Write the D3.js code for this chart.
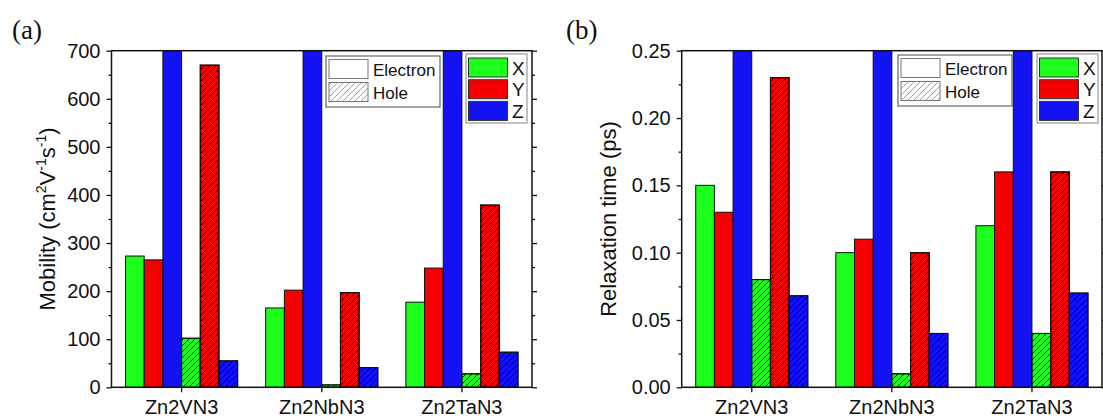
<!DOCTYPE html>
<html>
<head>
<meta charset="utf-8">
<script src="https://cdn.jsdelivr.net/npm/d3@7"></script>
<style>
  html, body { margin: 0; padding: 0; background: #fff; }
  svg { display: block; }
  text { font-family: "Liberation Sans", Arial, sans-serif; fill: #111; }
</style>
</head>
<body>
<svg id="chart" width="1103" height="419"></svg>
<script>
// ---------------- data ----------------
const categories = ["Zn2VN3", "Zn2NbN3", "Zn2TaN3"];
const seriesKeys = ["Xe", "Ye", "Ze", "Xh", "Yh", "Zh"];
const seriesDir = ["X", "Y", "Z", "X", "Y", "Z"];
const seriesHole = [false, false, false, true, true, true];

// (a) Mobility (cm2 V-1 s-1); Z electron values run off the top of the axis
const mobXe = [273, 165, 177];
const mobYe = [265, 202, 248];
const mobZe = [900, 900, 900];
const mobXh = [102, 5, 28];
const mobYh = [670, 197, 379];
const mobZh = [55, 41, 73];
const mobTicks = [0, 100, 200, 300, 400, 500, 600, 700];

// (b) Relaxation time (ps); Z electron values run off the top of the axis
const relXe = [0.15, 0.10, 0.12];
const relYe = [0.13, 0.11, 0.16];
const relZe = [0.35, 0.35, 0.35];
const relXh = [0.08, 0.01, 0.04];
const relYh = [0.23, 0.10, 0.16];
const relZh = [0.068, 0.04, 0.07];
const relTicks = [0, 0.05, 0.10, 0.15, 0.20, 0.25];

const dirColors = { X: "#1cff1c", Y: "#f40000", Z: "#1212f2" };
const legendDirs = ["X", "Y", "Z"];
const legendTypes = ["Electron", "Hole"];

// ---------------- drawing ----------------
const svg = d3.select("#chart");
const defs = svg.append("defs");

function hatch(id, color, w) {
  const p = defs.append("pattern")
    .attr("id", id).attr("patternUnits", "userSpaceOnUse")
    .attr("width", 6).attr("height", 6);
  p.append("path")
    .attr("d", "M-1,1 l2,-2 M0,6 l6,-6 M5,7 l2,-2")
    .attr("stroke", color).attr("stroke-width", w);
}
hatch("hatch", "#000", 0.8);
hatch("hatchGray", "#888", 0.8);

function panel(cfg) {
  const { left, right, top, bottom } = cfg;
  const g = svg.append("g");

  const x0 = d3.scaleBand().domain(categories).range([left, right]).padding(0);
  const bw = x0.bandwidth();
  const x1 = d3.scaleBand().domain(seriesKeys).range([0.1 * bw, 0.9 * bw]).padding(0);
  const y = d3.scaleLinear().domain(cfg.domain).range([bottom, top]);

  const clipId = "clip-" + cfg.id;
  defs.append("clipPath").attr("id", clipId)
    .append("rect").attr("x", left).attr("y", top)
    .attr("width", right - left).attr("height", bottom - top);

  const rows = [];
  categories.forEach((c, ci) => {
    seriesKeys.forEach((k, si) => {
      rows.push({ cat: c, key: k, dir: seriesDir[si], hole: seriesHole[si], v: cfg.values[si][ci] });
    });
  });

  const bars = g.append("g").attr("clip-path", `url(#${clipId})`);
  bars.selectAll("rect.fill").data(rows).join("rect")
    .attr("class", "fill")
    .attr("x", d => x0(d.cat) + x1(d.key))
    .attr("y", d => y(d.v))
    .attr("width", x1.bandwidth())
    .attr("height", d => y(0) - y(d.v))
    .attr("fill", d => dirColors[d.dir])
    .attr("stroke", "#111").attr("stroke-width", 1);
  bars.selectAll("rect.hatch").data(rows.filter(d => d.hole)).join("rect")
    .attr("class", "hatch")
    .attr("x", d => x0(d.cat) + x1(d.key))
    .attr("y", d => y(d.v))
    .attr("width", x1.bandwidth())
    .attr("height", d => y(0) - y(d.v))
    .attr("fill", "url(#hatch)")
    .attr("stroke", "#111").attr("stroke-width", 1);

  // frame
  g.append("rect").attr("x", left).attr("y", top)
    .attr("width", right - left).attr("height", bottom - top)
    .attr("fill", "none").attr("stroke", "#111").attr("stroke-width", 1.5);

  const step = cfg.ticks[1] - cfg.ticks[0];
  const minor = cfg.ticks.slice(0, -1).map(t => t + step / 2);

  // left axis
  const la = g.append("g").attr("transform", `translate(${left},0)`)
    .call(d3.axisLeft(y).tickValues(cfg.ticks).tickFormat(cfg.fmt).tickSize(5).tickPadding(6));
  la.select(".domain").remove();
  la.selectAll("line").attr("stroke", "#111").attr("stroke-width", 1.3);
  la.selectAll("text").attr("font-size", 20).attr("fill", "#111")
    .style("font-family", '"Liberation Sans", Arial, sans-serif');
  const lm = g.append("g").attr("transform", `translate(${left},0)`)
    .call(d3.axisLeft(y).tickValues(minor).tickFormat("").tickSize(3));
  lm.select(".domain").remove();
  lm.selectAll("line").attr("stroke", "#111").attr("stroke-width", 1.3);

  // right axis ticks
  const ra = g.append("g").attr("transform", `translate(${right},0)`)
    .call(d3.axisRight(y).tickValues(cfg.ticks).tickFormat("").tickSize(5));
  ra.select(".domain").remove();
  ra.selectAll("line").attr("stroke", "#111").attr("stroke-width", 1.3);
  const rm = g.append("g").attr("transform", `translate(${right},0)`)
    .call(d3.axisRight(y).tickValues(minor).tickFormat("").tickSize(3));
  rm.select(".domain").remove();
  rm.selectAll("line").attr("stroke", "#111").attr("stroke-width", 1.3);

  // bottom axis
  const ba = g.append("g").attr("transform", `translate(0,${bottom})`)
    .call(d3.axisBottom(x0).tickSize(5).tickPadding(8));
  ba.select(".domain").remove();
  ba.selectAll("line").attr("stroke", "#111").attr("stroke-width", 1.3);
  ba.selectAll("text").attr("font-size", 20).attr("fill", "#111").attr("dy", null)
    .attr("y", 414 - bottom)
    .style("font-family", '"Liberation Sans", Arial, sans-serif');

  // y title
  const t = g.append("text")
    .attr("transform", `translate(${cfg.titleX},${(top + bottom) / 2}) rotate(-90)`)
    .attr("text-anchor", "middle").attr("font-size", 22);
  cfg.title.forEach(part => {
    const ts = t.append("tspan").text(part.t);
    if (part.sup) ts.attr("font-size", 14).attr("dy", -9);
    if (part.after) ts.attr("dy", 9);
  });

  // panel letter
  svg.append("text").attr("x", cfg.letterX).attr("y", 39)
    .attr("font-size", 27).style("font-family", '"Liberation Serif", "Times New Roman", serif')
    .text(cfg.letter);

  // legend: Electron / Hole
  const L1 = cfg.leg1;
  g.append("rect").attr("x", L1.x).attr("y", L1.y).attr("width", 114).attr("height", 51)
    .attr("fill", "#fff").attr("stroke", "#666").attr("stroke-width", 1.2);
  legendTypes.forEach((lt, i) => {
    const yy = L1.y + 3.5 + i * 23;
    g.append("rect").attr("x", L1.x + 3).attr("y", yy).attr("width", 39).attr("height", 19)
      .attr("fill", i === 1 ? "url(#hatchGray)" : "#fff").attr("stroke", "#777").attr("stroke-width", 1);
    g.append("text").attr("x", L1.x + 47).attr("y", yy + 16).attr("font-size", 17).text(lt);
  });

  // legend: X / Y / Z
  const L2 = cfg.leg2;
  g.append("rect").attr("x", L2.x).attr("y", L2.y).attr("width", 61).attr("height", 69)
    .attr("fill", "#fff").attr("stroke", "#999").attr("stroke-width", 1.2);
  legendDirs.forEach((dname, i) => {
    const yy = L2.y + 4 + i * 21.7;
    g.append("rect").attr("x", L2.x + 2.5).attr("y", yy).attr("width", 39).attr("height", 19)
      .attr("fill", dirColors[dname]).attr("stroke", "#333").attr("stroke-width", 1);
    g.append("text").attr("x", L2.x + 46).attr("y", yy + 16.5).attr("font-size", 19).text(dname);
  });
}

panel({
  id: "a", left: 111.5, right: 532, top: 50.7, bottom: 387.3,
  domain: [0, 700], ticks: mobTicks, fmt: d3.format("d"),
  values: [mobXe, mobYe, mobZe, mobXh, mobYh, mobZh],
  titleX: 55,
  title: [{ t: "Mobility (cm" }, { t: "2", sup: true }, { t: "V", after: true },
          { t: "-1", sup: true }, { t: "s", after: true }, { t: "-1", sup: true }, { t: ")", after: true }],
  letter: "(a)", letterX: 12,
  leg1: { x: 326, y: 56 }, leg2: { x: 466, y: 54 }
});

panel({
  id: "b", left: 681.7, right: 1102, top: 50.7, bottom: 387.3,
  domain: [0, 0.25], ticks: relTicks, fmt: d3.format(".2f"),
  values: [relXe, relYe, relZe, relXh, relYh, relZh],
  titleX: 616,
  title: [{ t: "Relaxation time (ps)" }],
  letter: "(b)", letterX: 566,
  leg1: { x: 898, y: 55 }, leg2: { x: 1037, y: 54 }
});
</script>
</body>
</html>
